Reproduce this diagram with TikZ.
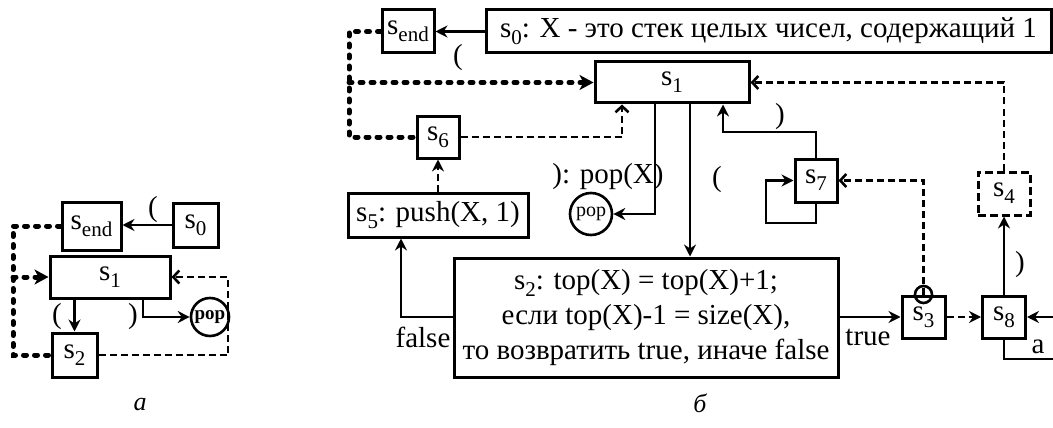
\documentclass[tikz,border=0pt]{standalone}
\usepackage{fontspec}
\setmainfont{Liberation Serif}
\usetikzlibrary{arrows.meta,calc}
\newcommand{\lo}[1]{\raisebox{-0.55ex}{\fontsize{21}{21}\selectfont #1}}
\begin{document}
\begin{tikzpicture}[x=1pt,y=-1pt,
  every node/.style={font=\fontsize{29}{35}\selectfont, inner sep=0pt},
  box/.style={draw, line width=3pt, rectangle},
  ln/.style={line width=2.6pt},
  arr/.style={line width=2.6pt, -{Stealth[length=12pt,width=12pt,inset=4pt]}},
  dsh/.style={line width=2.6pt, dash pattern=on 7pt off 4pt},
  barb/.style={-{Straight Barb[length=6pt,width=13pt]}},
  stl/.style={-{Stealth[length=12pt,width=12pt,inset=4pt]}},
  dotline/.style={line width=5pt, line cap=round, dash pattern=on 3pt off 8pt},
  thickarr/.style={-{Stealth[length=14pt,width=15pt,inset=4pt,line cap=butt]}},
  popc/.style={draw, circle, line width=2.6pt, minimum size=40pt}
]
\useasboundingbox (0,0) rectangle (1053,428);

% ---------- part a ----------
\node[box, minimum width=59, minimum height=48] (senda) at (91.5,226) {s\lo{end}};
\node[box, minimum width=45, minimum height=44] (s0a) at (195.5,225) {s\lo{0}};
\node[box, minimum width=120, minimum height=42] (s1a) at (110,277) {s\lo{1}};
\node[popc, minimum size=38pt, font=\bfseries\fontsize{19}{19}\selectfont] (popa) at (210,317) {pop};
\node[box, minimum width=45, minimum height=44] (s2a) at (74.5,355) {s\lo{2}};

\coordinate (la) at (13,0);
\coordinate (ra) at (228,0);
\coordinate (pa) at (143,0);

\draw[arr] (s0a.west) -- (s0a.west -| senda.east);
\node (pa1) at (153,210) {(};
\draw[arr] (s1a.south -| s2a.north) -- (s2a.north);
\node (pa2) at (57,317) {(};
\draw[arr] (s1a.south -| pa) |- (popa.west);
\node (pa3) at (133,317) {)};
\draw[dsh, barb] (s2a.east) -| (ra |- s1a.east) -- (s1a.east);
\draw[dotline] (senda.west) -| (la |- s2a.west) -- (s2a.west);
\draw[dotline, thickarr] (la |- s1a.west) -- (s1a.west);
\node[font=\itshape\fontsize{26}{26}\selectfont] (capa) at (140,405) {а};

% ---------- part b ----------
\node[box, minimum width=52, minimum height=43] (sendb) at (408,31.5) {s\lo{end}};
\node[box, minimum width=565, minimum height=43] (s0b) at (768.5,31.5) {s\lo{0}: X - это стек целых чисел, содержащий 1};
\node[box, minimum width=154, minimum height=41] (s1b) at (672,82.5) {s\lo{1}};
\node[box, minimum width=42, minimum height=42] (s6b) at (438,137) {s\lo{6}};
\node[box, minimum width=180, minimum height=44] (s5b) at (438,215) {s\lo{5}: push(X, 1)};
\node[popc, minimum size=42pt, font=\fontsize{20}{20}\selectfont] (popb) at (591,214) {pop};
\node[box, minimum width=42, minimum height=43] (s7b) at (816,180.5) {s\lo{7}};
\node[box, dash pattern=on 8pt off 4pt, minimum width=52, minimum height=43] (s4b) at (1004,193.5) {s\lo{4}};
\node[box, minimum width=384, minimum height=119, align=center] (s2b) at (646,317.5)
  {s\lo{2}: top(X) = top(X)+1;\\если top(X)-1 = size(X),\\то возвратить true, иначе false};
\node[box, minimum width=43, minimum height=42] (s3b) at (923.5,317) {s\lo{3}};
\node[box, minimum width=43, minimum height=42] (s8b) at (1004,317) {s\lo{8}};
\node[draw, circle, line width=2.6pt, minimum size=17pt] (o3) at (s3b.north) {};

\coordinate (lb) at (349,0);
\coordinate (c6) at (622,0);
\coordinate (cp) at (655,0);
\coordinate (c2) at (690,0);
\coordinate (c7) at (723,132);
\coordinate (lp) at (766,223);
\coordinate (re) at (1053,317);
\coordinate (re2) at (1053,359);
\coordinate (cf) at (401,317);

\draw[arr] (s0b.west) -- (sendb.east);
\node (pb1) at (458,58) {(};
\draw[dotline] (sendb.west) -| (lb |- s6b.west) -- (s6b.west);
\draw[dotline, thickarr] (lb |- s1b.west) -- (s1b.west);
\draw[dsh, barb] (s6b.east) -| (c6 |- s1b.south);
\draw[dsh, stl] (s5b.north) -- (s6b.south);
\draw[arr] (cp |- s1b.south) |- (popb.east);
\node (pb2) at (608,177) {): pop(X)};
\draw[arr] (c2 |- s1b.south) -- (c2 |- s2b.north);
\node (pb3) at (717,180) {(};
\draw[arr] (s7b.north) |- (c7) -- (c7 |- s1b.south);
\node (pb4) at (780,117) {)};
\draw[arr] (s7b.south) |- (lp) |- (s7b.west);
\draw[dsh, barb] (o3.center) |- (s7b.east);
\draw[dsh, barb] (s4b.north) |- (s1b.east);
\draw[arr] (s8b.north) -- (s4b.south);
\node (pb5) at (1020,265) {)};
\draw[arr] (s3b.west -| s2b.east) -- (s3b.west);
\node (pb6) at (868,337) {true};
\draw[dsh, stl] (s3b.east) -- (s8b.west);
\draw[arr] (re) -- (s8b.east);
\draw[ln] (s8b.south) |- (re2);
\node (pb7) at (1038,347) {a};
\draw[arr] (s2b.west |- cf) -| (s5b.south -| cf);
\node (pb8) at (423,337) {false};
\node[font=\itshape\fontsize{26}{26}\selectfont] (capb) at (700,403) {б};
\end{tikzpicture}
\end{document}
